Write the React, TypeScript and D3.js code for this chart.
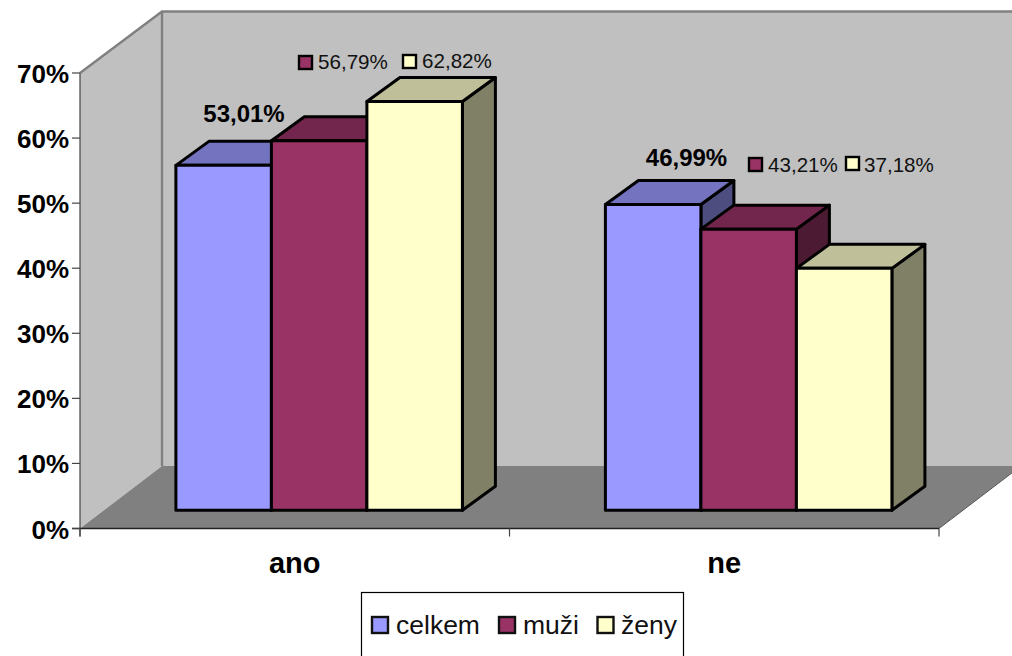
import React from "react";
import * as d3 from "d3";

const categories = ["ano", "ne"];
const seriesNames = ["celkem", "muži", "ženy"];
const celkem = [53.01, 46.99];
const muzi = [56.79, 43.21];
const zeny = [62.82, 37.18];
const valueLabels = [
  ["53,01%", "56,79%", "62,82%"],
  ["46,99%", "43,21%", "37,18%"],
];
const yTicks = [0, 10, 20, 30, 40, 50, 60, 70];
const colors = ["#9999FF", "#993366", "#FFFFCC"];

const FONT = "'Liberation Sans', Arial, sans-serif";
const allSeries = [celkem, muzi, zeny];

export default function App() {
  const y = d3.scaleLinear().domain([0, 70]).range([528.5, 73]);
  const x = d3.scaleBand().domain(categories).range([80, 939]);
  const wallDx = 82, wallDy = -61.5, floorDy = -62.5;
  const barDx = 33, barDy = -24;
  const barW = 95.5;
  const baseShift = -18.2;
  const groupShift = 24.4;
  const x0 = 80, x1 = 939, yB = y(0), yT = y(70);
  const shade = (c: string, k: number) => {
    const r = d3.rgb(c);
    return d3.rgb(r.r * k, r.g * k, r.b * k).formatHex();
  };
  const pts = (p: number[][]) => p.map((a) => a.join(",")).join(" ");

  const labelPos = [
    [{ tx: 244, ty: 122 }, { sx: 299, sy: 56, tx: 318, ty: 68.5 }, { sx: 403, sy: 55, tx: 422, ty: 67.5 }],
    [{ tx: 686.5, ty: 165.5 }, { sx: 749, sy: 158, tx: 768, ty: 172 }, { sx: 846, sy: 157, tx: 864, ty: 171.5 }],
  ];

  return (
    <svg width={1012} height={656} style={{ position: "absolute", left: 0, top: 0, background: "#fff" }} fontFamily={FONT}>
      <polygon points={pts([[x0, yB], [x0 + wallDx, yB + floorDy], [x0 + wallDx, yT + wallDy], [x0, yT]])} fill="#C0C0C0" />
      <polygon points={pts([[x0 + wallDx, yB + floorDy], [1012, yB + floorDy], [1012, yT + wallDy], [x0 + wallDx, yT + wallDy]])} fill="#C0C0C0" />
      <polygon points={pts([[x0, yB], [x1, yB], [x1 + wallDx, yB + floorDy], [x0 + wallDx, yB + floorDy]])} fill="#808080" />
      <polyline points={pts([[x0, yT], [x0 + wallDx, yT + wallDy], [1012, yT + wallDy]])} fill="none" stroke="#808080" strokeWidth={2.4} />
      <line x1={x0 + wallDx} x2={x0 + wallDx} y1={yT + wallDy} y2={yB + floorDy} stroke="#808080" strokeWidth={2.4} />
      <line x1={x1} y1={yB} x2={x1 + wallDx} y2={yB + floorDy} stroke="#555" strokeWidth={1} />

      {categories.map((cat, ci) => {
        const left = (x(cat) as number) + x.bandwidth() / 2 + groupShift - (barW * 3) / 2;
        return seriesNames.map((s, si) => {
          const v = allSeries[si][ci];
          const xa = left + si * barW;
          const xb = xa + barW;
          const yTop = y(v) + baseShift;
          const yBot = y(0) + baseShift;
          const edge = { stroke: "#000", strokeWidth: 3, strokeLinejoin: "round" as const };
          return (
            <g key={cat + s}>
              <polygon points={pts([[xb, yTop], [xb + barDx, yTop + barDy], [xb + barDx, yBot + barDy], [xb, yBot]])} fill={shade(colors[si], 0.5)} {...edge} />
              <polygon points={pts([[xa, yTop], [xa + barDx, yTop + barDy], [xb + barDx, yTop + barDy], [xb, yTop]])} fill={shade(colors[si], 0.75)} {...edge} />
              <rect x={xa} y={yTop} width={barW} height={yBot - yTop} fill={colors[si]} {...edge} />
            </g>
          );
        });
      })}

      <line x1={x0} x2={x0} y1={yT} y2={yB + 8} stroke="#444" strokeWidth={1.2} />
      <line x1={x0 - 8} x2={x1} y1={yB} y2={yB} stroke="#222" strokeWidth={1.6} />
      {yTicks.map((t) => (
        <g key={t}>
          <line x1={x0 - 8} x2={x0} y1={y(t)} y2={y(t)} stroke="#444" strokeWidth={1.2} />
          <text x={69} y={y(t) + 10} textAnchor="end" fontSize={26} fontWeight="bold" fill="#000">{t}%</text>
        </g>
      ))}
      {[x0, 509.5, x1].map((t) => (
        <line key={t} x1={t} x2={t} y1={yB} y2={yB + 8} stroke="#444" strokeWidth={1.2} />
      ))}
      {categories.map((c) => (
        <text key={c} x={(x(c) as number) + x.bandwidth() / 2} y={573} textAnchor="middle" fontSize={29} fontWeight="bold" fill="#000">{c}</text>
      ))}

      {valueLabels.map((row, ci) =>
        row.map((txt, si) => {
          const p: any = labelPos[ci][si];
          if (si === 0) {
            return <text key={txt} x={p.tx} y={p.ty} textAnchor="middle" fontSize={24} fontWeight="bold" fill="#000">{txt}</text>;
          }
          return (
            <g key={txt}>
              <rect x={p.sx} y={p.sy} width={13} height={13} fill={colors[si]} stroke="#000" strokeWidth={2.4} />
              <text x={p.tx} y={p.ty} fontSize={20.6} fill="#111">{txt}</text>
            </g>
          );
        })
      )}

      <rect x={361.5} y={592.5} width={322} height={70} fill="#fff" stroke="#000" strokeWidth={1.2} />
      {seriesNames.map((s, i) => {
        const sx = [372, 499, 597.5][i];
        const tx = [396, 523, 621][i];
        return (
          <g key={s}>
            <rect x={sx} y={617} width={16} height={16} fill={colors[i]} stroke="#111" strokeWidth={2.4} />
            <text x={tx} y={633.5} fontSize={26.5} fill="#111">{s}</text>
          </g>
        );
      })}
    </svg>
  );
}
